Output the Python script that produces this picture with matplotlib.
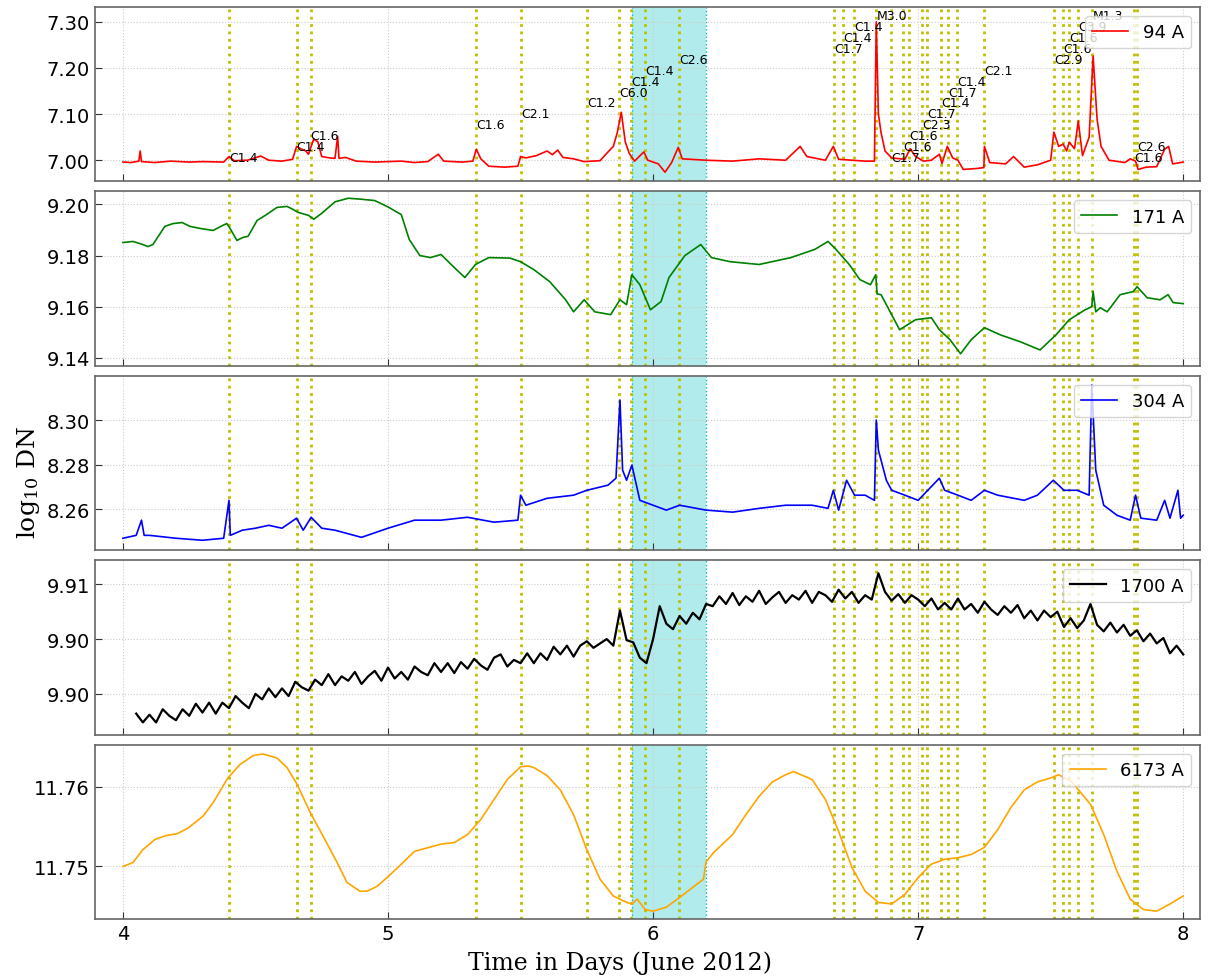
import numpy as np
import matplotlib
matplotlib.use("Agg")
from matplotlib import pyplot as plt
from matplotlib.ticker import FormatStrFormatter

# flare times (days of June 2012) and GOES classes
flare_t = [4.40, 4.655, 4.708, 5.332, 5.502, 5.751, 5.872, 5.917, 5.970, 6.098,
           6.683, 6.717, 6.758, 6.842, 6.898, 6.943, 6.966, 7.015, 7.034, 7.087,
           7.113, 7.147, 7.249, 7.513, 7.547, 7.570, 7.604, 7.657, 7.815, 7.826]
flare_lab = ["C1.4", "C1.4", "C1.6", "C1.6", "C2.1", "C1.2", "C6.0", "C1.4", "C1.4", "C2.6",
             "C1.7", "C1.4", "C1.4", "M3.0", "C1.7", "C1.6", "C1.6", "C2.3", "C1.7", "C1.4",
             "C1.7", "C1.4", "C2.1", "C2.9", "C1.6", "C1.6", "C3.9", "M1.3", "C1.6", "C2.6"]
band = (5.92, 6.20)

# 94 A
t94 = [4.00, 4.03, 4.06, 4.065, 4.07, 4.12, 4.18, 4.25, 4.30, 4.38, 4.40, 4.42, 4.47, 4.52, 4.55,
       4.60, 4.64, 4.655, 4.67, 4.69, 4.70, 4.71, 4.72, 4.735, 4.75, 4.78, 4.80, 4.81, 4.815, 4.84,
       4.88, 4.95, 5.00, 5.05, 5.10, 5.15, 5.19, 5.21, 5.28, 5.32, 5.333, 5.35, 5.38, 5.44, 5.49,
       5.50, 5.52, 5.56, 5.60, 5.62, 5.64, 5.66, 5.70, 5.74, 5.80, 5.83, 5.85, 5.865, 5.88, 5.895,
       5.91, 5.93, 5.965, 5.98, 6.02, 6.045, 6.07, 6.095, 6.11, 6.20, 6.30, 6.40, 6.50, 6.555, 6.58,
       6.65, 6.68, 6.70, 6.75, 6.80, 6.835, 6.842, 6.85, 6.86, 6.875, 6.90, 6.95, 6.97, 6.99, 7.02,
       7.05, 7.08, 7.09, 7.11, 7.13, 7.15, 7.16, 7.17, 7.22, 7.248, 7.25, 7.27, 7.33, 7.36, 7.40,
       7.45, 7.50, 7.512, 7.53, 7.547, 7.56, 7.57, 7.59, 7.604, 7.62, 7.645, 7.66, 7.675, 7.69, 7.72,
       7.78, 7.80, 7.82, 7.83, 7.86, 7.90, 7.93, 7.945, 7.96, 8.00]
v94 = [6.996, 6.995, 6.998, 7.020, 6.997, 6.995, 6.998, 6.996, 6.997, 6.996, 7.008, 6.999, 7.000, 7.009, 7.000,
       6.998, 7.002, 7.030, 7.025, 7.020, 7.013, 7.030, 7.046, 7.040, 7.008, 7.005, 7.004, 7.052, 7.004, 7.006,
       6.998, 6.996, 6.997, 6.998, 6.995, 6.997, 7.013, 6.998, 6.996, 6.998, 7.024, 7.003, 6.987, 6.985, 6.987,
       7.008, 7.005, 7.010, 7.020, 7.012, 7.022, 7.006, 7.003, 6.997, 6.999, 7.018, 7.030, 7.060, 7.104, 7.040,
       7.015, 6.998, 7.018, 7.000, 6.992, 6.974, 6.995, 7.028, 7.003, 7.000, 6.998, 7.003, 7.000, 7.030, 7.008,
       7.000, 7.030, 7.002, 7.000, 6.998, 6.998, 7.300, 7.100, 7.060, 7.020, 7.005, 7.002, 7.025, 7.008, 6.998,
       7.000, 7.013, 6.993, 7.030, 7.005, 7.000, 6.990, 6.980, 6.982, 6.984, 7.030, 6.995, 6.992, 7.008, 6.985,
       6.990, 7.000, 7.061, 7.030, 7.035, 7.020, 7.039, 7.025, 7.085, 7.010, 7.050, 7.226, 7.089, 7.030, 7.000,
       6.995, 7.003, 6.998, 6.980, 6.985, 6.986, 7.024, 7.030, 6.992, 6.996]

# 171 A
t171 = [4.000, 4.038, 4.075, 4.094, 4.113, 4.158, 4.189, 4.223, 4.253, 4.291, 4.340, 4.377, 4.392, 4.404,
        4.430, 4.453, 4.472, 4.506, 4.543, 4.581, 4.619, 4.642, 4.660, 4.70, 4.72, 4.75, 4.80, 4.85, 4.90,
        4.95, 5.00, 5.05, 5.08, 5.12, 5.16, 5.20, 5.25, 5.29, 5.33, 5.38, 5.46, 5.50, 5.55, 5.61, 5.67,
        5.70, 5.74, 5.78, 5.84, 5.875, 5.90, 5.92, 5.95, 5.99, 6.03, 6.06, 6.12, 6.18, 6.22, 6.29, 6.40,
        6.52, 6.61, 6.66, 6.69, 6.74, 6.78, 6.82, 6.84, 6.845, 6.86, 6.90, 6.93, 6.99, 7.05, 7.08, 7.12,
        7.16, 7.20, 7.25, 7.31, 7.385, 7.46, 7.52, 7.57, 7.63, 7.655, 7.66, 7.67, 7.687, 7.713, 7.762,
        7.811, 7.826, 7.864, 7.913, 7.943, 7.962, 8.000]
v171 = [9.1851, 9.1855, 9.1843, 9.1835, 9.1843, 9.1914, 9.1925, 9.1929, 9.1914, 9.1906, 9.1898, 9.1918, 9.1925, 9.1906,
        9.1859, 9.1871, 9.1875, 9.1937, 9.1961, 9.1988, 9.1992, 9.1980, 9.1969, 9.1957, 9.1942, 9.1965, 9.2010, 9.2024, 9.2020,
        9.2015, 9.1990, 9.1960, 9.1863, 9.1800, 9.1792, 9.1804, 9.1753, 9.1714, 9.1765, 9.1792, 9.1790, 9.1776, 9.1745, 9.1698, 9.1627,
        9.1580, 9.1627, 9.1580, 9.1569, 9.1627, 9.1608, 9.1725, 9.1686, 9.1588, 9.1620, 9.1714, 9.1800, 9.1843, 9.1792, 9.1776, 9.1765,
        9.1792, 9.1824, 9.1855, 9.1824, 9.1765, 9.1706, 9.1686, 9.1725, 9.1650, 9.1647, 9.1569, 9.1510, 9.1549, 9.1557, 9.1510, 9.1471,
        9.1416, 9.1471, 9.1518, 9.1490, 9.1463, 9.1431, 9.1490, 9.1549, 9.1588, 9.1600, 9.1659, 9.1580, 9.1596, 9.1580, 9.1647,
        9.1659, 9.1678, 9.1635, 9.1627, 9.1647, 9.1616, 9.1612]

# 304 A
t304 = [4.00, 4.05, 4.07, 4.08, 4.10, 4.20, 4.30, 4.38, 4.40, 4.405, 4.45, 4.50, 4.55, 4.60, 4.655,
        4.68, 4.71, 4.75, 4.80, 4.90, 5.00, 5.10, 5.20, 5.30, 5.40, 5.49, 5.50, 5.52, 5.60, 5.70,
        5.75, 5.83, 5.86, 5.875, 5.885, 5.90, 5.92, 5.95, 6.00, 6.05, 6.10, 6.20, 6.30, 6.40, 6.50,
        6.60, 6.66, 6.68, 6.70, 6.73, 6.76, 6.80, 6.835, 6.842, 6.85, 6.86, 6.88, 6.90, 6.95, 7.00,
        7.08, 7.10, 7.15, 7.20, 7.25, 7.30, 7.40, 7.45, 7.51, 7.55, 7.60, 7.645, 7.655, 7.67, 7.70,
        7.75, 7.80, 7.82, 7.84, 7.90, 7.93, 7.95, 7.98, 7.99, 8.00]
v304 = [8.2470, 8.2483, 8.2551, 8.2483, 8.2483, 8.2470, 8.2461, 8.2470, 8.2640, 8.2483, 8.2506, 8.2515, 8.2528, 8.2515, 8.2560,
        8.2506, 8.2564, 8.2515, 8.2506, 8.2474, 8.2515, 8.2551, 8.2551, 8.2564, 8.2542, 8.2551, 8.2663, 8.2618, 8.2649, 8.2663,
        8.2685, 8.2708, 8.2739, 8.3090, 8.2775, 8.2730, 8.2798, 8.2640, 8.2618, 8.2596, 8.2618, 8.2596, 8.2587, 8.2604, 8.2618,
        8.2618, 8.2604, 8.2685, 8.2596, 8.2730, 8.2663, 8.2663, 8.2640, 8.3000, 8.2865, 8.2820, 8.2730, 8.2685, 8.2663, 8.2640,
        8.2739, 8.2685, 8.2663, 8.2640, 8.2685, 8.2663, 8.2640, 8.2663, 8.2730, 8.2685, 8.2685, 8.2663, 8.3157, 8.2775, 8.2618,
        8.2573, 8.2551, 8.2663, 8.2560, 8.2551, 8.2640, 8.2560, 8.2685, 8.2560, 8.2573]

# 1700 A, read every 0.025 day from 4.05, in units of 1e-4 above 9.90
t1700 = np.arange(4.05, 8.0001, 0.025)
d1700 = [-18, -26, -19, -26, -14, -20, -24, -14, -20, -9,
         -17, -8, -18, -8, -13, -2, -8, -13, 0, -5,
         5, -3, 5, -2, 11, 6, 3, 13, 8, 18,
         8, 16, 12, 20, 9, 16, 21, 12, 24, 14,
         20, 13, 25, 20, 17, 28, 20, 28, 19, 29,
         23, 32, 26, 22, 33, 36, 25, 31, 28, 37,
         28, 37, 31, 43, 36, 44, 34, 44, 48, 42,
         46, 50, 44, 76, 49, 47, 33, 28, 50, 80,
         64, 59, 71, 64, 74, 68, 82, 80, 89, 82,
         92, 81, 89, 84, 94, 82, 88, 93, 83, 90,
         86, 94, 83, 93, 90, 84, 95, 87, 93, 83,
         90, 86, 110, 93, 85, 91, 83, 90, 86, 80,
         87, 77, 83, 77, 87, 77, 82, 74, 84, 77,
         72, 80, 74, 81, 69, 76, 67, 76, 70, 75,
         61, 69, 60, 67, 82, 63, 57, 65, 56, 63,
         53, 58, 48, 55, 46, 51, 37, 44, 36]
v1700 = 9.90 + np.array(d1700) * 1e-4

# 6173 A
t6173 = [4.000, 4.038, 4.075, 4.121, 4.166, 4.204, 4.245, 4.302, 4.340, 4.396, 4.442, 4.491, 4.528,
         4.581, 4.619, 4.657, 4.706, 4.755, 4.808, 4.845, 4.894, 4.921, 4.958, 4.996, 5.038, 5.10,
         5.20, 5.25, 5.30, 5.35, 5.40, 5.45, 5.50, 5.53, 5.55, 5.60, 5.65, 5.70, 5.75, 5.80, 5.85,
         5.90, 5.92, 5.94, 5.97, 6.00, 6.05, 6.10, 6.15, 6.19, 6.20, 6.23, 6.30, 6.35, 6.40, 6.45,
         6.50, 6.53, 6.60, 6.65, 6.70, 6.75, 6.80, 6.85, 6.90, 6.95, 7.00, 7.05, 7.10, 7.15, 7.20,
         7.25, 7.30, 7.35, 7.40, 7.45, 7.50, 7.53, 7.58, 7.65, 7.70, 7.75, 7.80, 7.85, 7.90, 7.95, 8.00]
v6173 = [11.7500, 11.7505, 11.7521, 11.7534, 11.7539, 11.7541, 11.7548, 11.7563, 11.7580, 11.7611, 11.7628, 11.7639, 11.7641,
         11.7636, 11.7624, 11.7603, 11.7568, 11.7538, 11.7505, 11.7480, 11.7469, 11.7469, 11.7475, 11.7486, 11.7499, 11.7519,
         11.7528, 11.7530, 11.7540, 11.7559, 11.7584, 11.7609, 11.7625, 11.7626, 11.7624, 11.7614, 11.7596, 11.7565, 11.7521, 11.7484, 11.7463,
         11.7455, 11.7453, 11.7459, 11.7446, 11.7444, 11.7449, 11.7461, 11.7474, 11.7484, 11.7506, 11.7518, 11.7540, 11.7565, 11.7588, 11.7606,
         11.7615, 11.7619, 11.7609, 11.7584, 11.7544, 11.7499, 11.7469, 11.7455, 11.7453, 11.7465, 11.7486, 11.7503, 11.7509, 11.7511, 11.7515,
         11.7524, 11.7546, 11.7574, 11.7596, 11.7606, 11.7611, 11.7615, 11.7606, 11.7578, 11.7540, 11.7494, 11.7459, 11.7446, 11.7444, 11.7453, 11.7463]

series = [(t94, v94, "r", "94 A"), (t171, v171, "g", "171 A"), (t304, v304, "b", "304 A"),
          (t1700, v1700, "k", "1700 A"), (t6173, v6173, "orange", "6173 A")]
ylims = [(6.9543, 7.3326), (9.1369, 9.2051), (8.2416, 8.3198), (9.89627, 9.91218), (11.74338, 11.76525)]
yticks = [[7.00, 7.10, 7.20, 7.30], [9.14, 9.16, 9.18, 9.20], [8.26, 8.28, 8.30],
          [9.900, 9.905, 9.910], [11.75, 11.76]]


def main():
    plt.rcParams["mathtext.fontset"] = "dejavuserif"
    fig, axes = plt.subplots(5, 1, sharex=True, figsize=(12.16, 9.78), dpi=100)
    fig.subplots_adjust(left=0.078, right=0.987, top=0.992, bottom=0.059, hspace=0.0575)

    for ax, (t, v, c, lab), yl, yt in zip(axes, series, ylims, yticks):
        ax.axvspan(band[0], band[1], color="c", alpha=0.3, lw=0, zorder=0)
        for b in band:
            ax.axvline(b, color="c", ls=":", lw=1, zorder=1)
        for ft in flare_t:
            ax.axvline(ft, color="y", ls=":", lw=2, zorder=1)
        lw = 1.6 if c == "k" else 1.2
        ax.plot(t, v, color=c, lw=lw, label=lab, zorder=2)
        ax.set_ylim(*yl)
        ax.set_yticks(yt)
        ax.yaxis.set_major_formatter(FormatStrFormatter("%.2f"))
        ax.grid(ls=":", color="0.8", lw=0.8)
        ax.tick_params(direction="in", length=5, labelsize=14, colors="0.2", labelcolor="k")
        for s in ax.spines.values():
            s.set_color("0.4")
            s.set_linewidth(1.2)
        ax.legend(loc="upper right", fontsize=13)

    for i, (ft, lab) in enumerate(zip(flare_t, flare_lab)):
        axes[0].text(ft, 6.998 + 0.0237 * (i % 14), lab, fontsize=9, clip_on=True, zorder=3)

    axes[-1].set_xlim(3.894, 8.064)
    axes[-1].set_xticks([4, 5, 6, 7, 8])

    fig.text(0.51, 0.0153, "Time in Days (June 2012)", ha="center", va="center",
             fontsize=17, family="serif")
    fig.text(0.012, 0.507, r"log$_{10}$ DN", rotation=90, ha="left", va="center",
             fontsize=18, family="serif")

    fig.savefig("out.png", dpi=100)


if __name__ == "__main__":
    main()
